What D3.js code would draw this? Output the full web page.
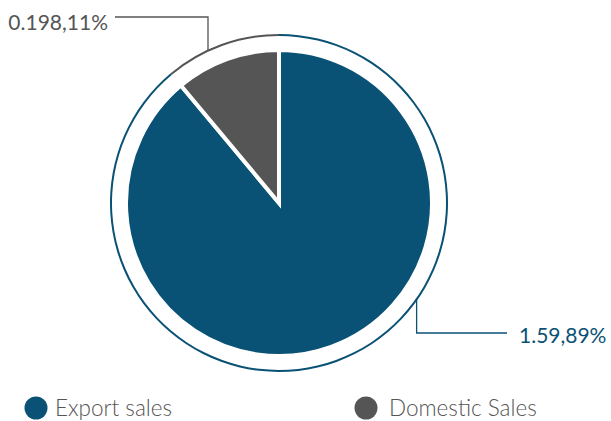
<!DOCTYPE html>
<html>
<head>
<meta charset="utf-8">
<script src="https://cdn.jsdelivr.net/npm/d3@7/dist/d3.min.js"></script>
<style>
  html, body { margin: 0; padding: 0; background: #fff; }
  svg { display: block; font-family: Lato, "Open Sans", sans-serif; }
</style>
</head>
<body>
<svg id="chart" width="611" height="421"></svg>
<script>
// Sales split
const categories = ["Export sales", "Domestic Sales"];
const values = [1.59, 0.198];
const percents = [89, 11];
const valueLabels = ["1.59", "0.198"];
const colors = ["#0a5275", "#555555"];

const svg = d3.select("#chart");
const cx = 279, cy = 203;
const rPie = 153, rRing = 168;

// Export runs clockwise from 12 o'clock, domestic closes the circle
const pie = d3.pie().sort(null).value(d => d.value)
  .startAngle(0).endAngle(2 * Math.PI);
const data = categories.map((c, i) => ({ name: c, value: values[i], pct: percents[i], label: valueLabels[i], color: colors[i] }));
const arcs = pie(data);

const g = svg.append("g").attr("transform", `translate(${cx},${cy})`);

const arc = d3.arc().innerRadius(0).outerRadius(rPie);
g.selectAll("path.slice").data(arcs).join("path")
  .attr("class", "slice")
  .attr("d", arc)
  .attr("fill", d => d.data.color)
  .attr("stroke", "#fff")
  .attr("stroke-width", 4)
  .attr("stroke-linejoin", "miter");

// thin outer ring, coloured per slice
const ring = d3.arc().innerRadius(rRing - 1).outerRadius(rRing + 1);
g.selectAll("path.ring").data(arcs).join("path")
  .attr("class", "ring")
  .attr("d", ring)
  .attr("fill", d => d.data.color);

// leader lines and value labels
const leaders = [
  { i: 0, angle: 125, yEnd: 333, xEnd: 507, anchor: "start", tx: 519, ty: 343 },
  { i: 1, angle: -25, yEnd: 17, xEnd: 115, anchor: "end", tx: 108, ty: 30 }
];
leaders.forEach(l => {
  const d = data[l.i];
  const a = l.angle * Math.PI / 180;
  const px = cx + rRing * Math.sin(a);
  const py = cy - rRing * Math.cos(a);
  svg.append("path")
    .attr("d", `M${px},${py}V${l.yEnd}H${l.xEnd}`)
    .attr("fill", "none")
    .attr("stroke", d.color)
    .attr("stroke-width", 1.3);
  svg.append("text")
    .attr("x", l.tx).attr("y", l.ty)
    .attr("text-anchor", l.anchor)
    .attr("fill", d.color)
    .attr("font-size", 21)
    .text(`${d.label},${d.pct}%`);
});

// legend
const legendX = [36, 366];
const legendTextDx = [19, 23];
const legend = svg.selectAll("g.legend").data(data).join("g")
  .attr("class", "legend")
  .attr("transform", (d, i) => `translate(${legendX[i]},408)`);
legend.append("circle").attr("r", 11.5).attr("fill", d => d.color);
legend.append("text")
  .attr("x", (d, i) => legendTextDx[i]).attr("y", 7.5)
  .attr("font-size", 22.5)
  .attr("font-weight", 300)
  .attr("fill", "#555")
  .text(d => d.name);
</script>
</body>
</html>
